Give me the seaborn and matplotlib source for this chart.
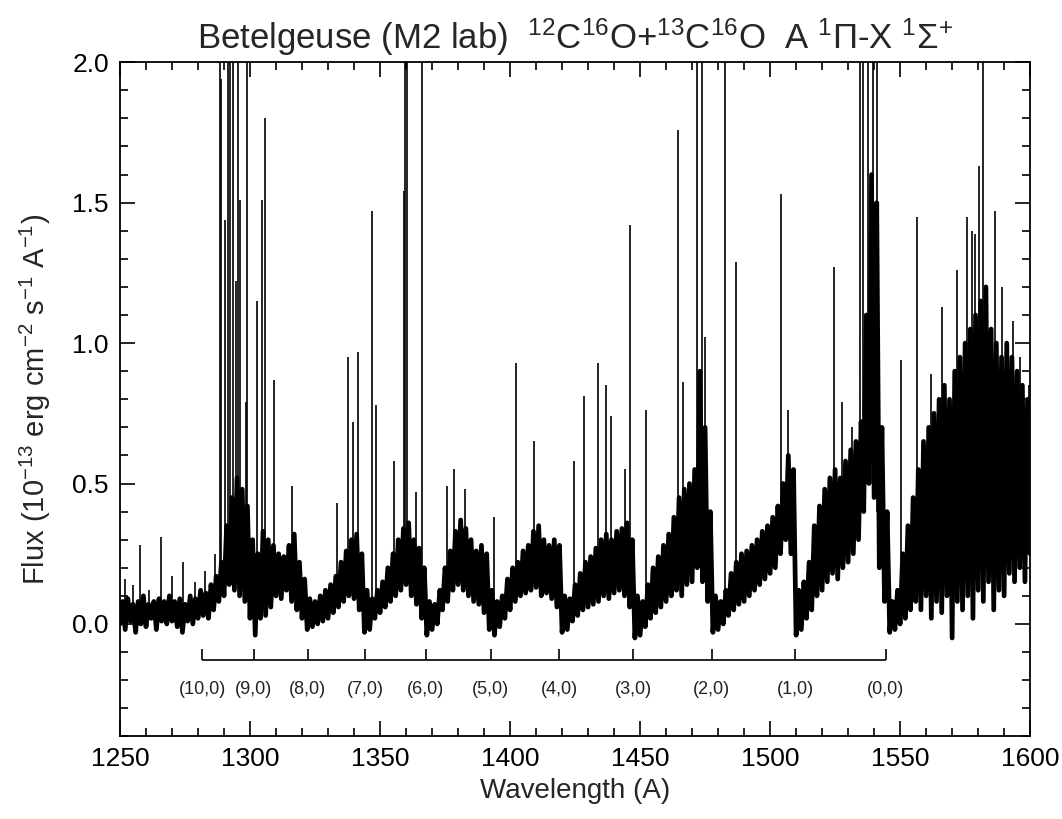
import numpy as np
import matplotlib
matplotlib.use("Agg")
import matplotlib.pyplot as plt
import seaborn as sns
from matplotlib.ticker import MultipleLocator

# -----------------------------
# Data
# -----------------------------
# wavelength grid (A), 2 A steps; lower / upper edge of the noisy band
wl = np.arange(1250, 1601, 2)
flux_lo = [
    0.00, -0.02, 0.01, -0.03, 0.00, -0.01, 0.02, -0.02, 0.01, 0.00,   # 1250-1268
    0.01, -0.01, -0.03, 0.01, 0.00, 0.02, 0.03, 0.02, 0.05, 0.08,     # 1270-1288
    0.10, 0.14, 0.12, 0.10, 0.08, 0.02, -0.04, 0.02, 0.03, 0.06,      # 1290-1308
    0.10, 0.09, 0.12, 0.08, 0.05, 0.02, -0.02, -0.01, 0.00, 0.01,     # 1310-1328
    0.02, 0.04, 0.06, 0.08, 0.10, 0.09, 0.05, -0.03, -0.02, 0.02,     # 1330-1348
    0.04, 0.06, 0.08, 0.10, 0.12, 0.14, 0.10, 0.07, 0.02, -0.04,      # 1350-1368
    -0.02, 0.00, 0.05, 0.08, 0.12, 0.14, 0.12, 0.10, 0.08, 0.07,      # 1370-1388
    0.04, -0.02, -0.04, -0.01, 0.02, 0.05, 0.08, 0.10, 0.11, 0.12,    # 1390-1408
    0.13, 0.10, 0.11, 0.09, 0.06, -0.03, -0.02, 0.01, 0.03, 0.05,     # 1410-1428
    0.06, 0.07, 0.08, 0.10, 0.09, 0.11, 0.12, 0.10, 0.06, -0.05,      # 1430-1448
    -0.04, -0.01, 0.02, 0.04, 0.06, 0.08, 0.10, 0.12, 0.10, 0.14,     # 1450-1468
    0.15, 0.20, 0.15, 0.08, -0.03, -0.02, 0.00, 0.03, 0.05, 0.07,     # 1470-1488
    0.08, 0.10, 0.12, 0.14, 0.16, 0.18, 0.20, 0.25, 0.30, 0.25,       # 1490-1508
    -0.04, -0.02, 0.02, 0.05, 0.10, 0.12, 0.15, 0.18, 0.16, 0.20,     # 1510-1528
    0.22, 0.25, 0.30, 0.40, 0.50, 0.45, 0.20, 0.08, -0.03, -0.02,     # 1530-1548
    0.00, 0.02, 0.05, 0.08, 0.05, 0.10, 0.02, 0.08, 0.04, 0.10,       # 1550-1568
    -0.05, 0.08, 0.05, 0.10, 0.02, 0.12, 0.08, 0.15, 0.05, 0.12,      # 1570-1588
    0.10, 0.18, 0.15, 0.20, 0.15, 0.25,                               # 1590-1600
]
flux_hi = [
    0.08, 0.09, 0.07, 0.08, 0.10, 0.07, 0.08, 0.09, 0.08, 0.10,
    0.08, 0.09, 0.07, 0.10, 0.09, 0.12, 0.11, 0.14, 0.17, 0.22,
    0.35, 0.45, 0.52, 0.48, 0.42, 0.30, 0.25, 0.33, 0.30, 0.28,
    0.25, 0.24, 0.28, 0.32, 0.22, 0.16, 0.09, 0.08, 0.10, 0.12,
    0.14, 0.17, 0.22, 0.26, 0.30, 0.32, 0.25, 0.12, 0.09, 0.12,
    0.15, 0.20, 0.25, 0.30, 0.34, 0.36, 0.30, 0.27, 0.20, 0.08,
    0.07, 0.12, 0.20, 0.26, 0.33, 0.37, 0.34, 0.30, 0.26, 0.28,
    0.25, 0.12, 0.08, 0.10, 0.16, 0.20, 0.22, 0.26, 0.28, 0.33,
    0.35, 0.30, 0.28, 0.30, 0.28, 0.10, 0.09, 0.14, 0.18, 0.22,
    0.24, 0.27, 0.30, 0.32, 0.30, 0.33, 0.34, 0.36, 0.30, 0.10,
    0.08, 0.14, 0.20, 0.24, 0.28, 0.32, 0.38, 0.45, 0.48, 0.50,
    0.55, 0.90, 0.70, 0.40, 0.10, 0.08, 0.12, 0.18, 0.22, 0.25,
    0.26, 0.28, 0.30, 0.33, 0.35, 0.38, 0.42, 0.50, 0.60, 0.55,
    0.12, 0.15, 0.22, 0.35, 0.42, 0.48, 0.52, 0.55, 0.52, 0.58,
    0.62, 0.65, 0.72, 1.10, 1.60, 1.50, 0.70, 0.40, 0.08, 0.12,
    0.25, 0.35, 0.45, 0.55, 0.65, 0.70, 0.75, 0.80, 0.85, 0.80,
    0.90, 0.95, 1.00, 1.05, 1.10, 1.15, 1.20, 1.05, 1.00, 0.95,
    1.00, 0.95, 0.90, 0.85, 0.80, 0.90,
]

# individual emission lines: position, base, peak (peaks above 2 run off the top)
line_wl = [1251.8, 1255.0, 1257.6, 1261.0, 1265.6, 1270.0, 1274.2, 1279.0, 1282.7, 1286.4,
           1288.3, 1288.8, 1290.5, 1291.5, 1292.3, 1293.5, 1294.5, 1295.5, 1296.0, 1298.5,
           1299.0, 1302.6, 1304.5, 1305.8, 1309.2, 1316.0, 1333.5, 1337.7, 1339.7, 1341.5,
           1346.8, 1348.3, 1355.4, 1359.2, 1359.6, 1360.4, 1363.7, 1366.0, 1375.6, 1378.5,
           1382.7, 1393.8, 1402.3, 1409.2, 1424.6, 1428.6, 1433.9, 1437.0, 1438.8, 1444.2,
           1446.2, 1452.2, 1464.6, 1466.5, 1471.9, 1473.8, 1475.0, 1482.7, 1486.9, 1504.2,
           1506.9, 1524.6, 1527.6, 1531.4, 1534.6, 1535.8, 1537.5, 1539.5, 1541.0, 1550.3,
           1556.5, 1561.8, 1566.2, 1571.8, 1575.8, 1577.7, 1578.8, 1580.4, 1582.0, 1586.5,
           1589.0, 1593.3, 1596.0, 1599.5]
line_base = [0.03, 0.03, 0.03, 0.03, 0.03, 0.04, 0.03, 0.04, 0.05, 0.08,
             0.10, 0.10, 0.15, 0.15, 0.15, 0.15, 0.15, 0.15, 0.15, 0.12,
             0.12, 0.10, 0.12, 0.12, 0.15, 0.15, 0.10, 0.15, 0.15, 0.15,
             0.05, 0.06, 0.15, 0.20, 0.20, 0.20, 0.15, 0.10, 0.15, 0.20,
             0.20, 0.05, 0.15, 0.20, 0.10, 0.12, 0.15, 0.18, 0.18, 0.20,
             0.15, 0.10, 0.25, 0.25, 0.30, 0.30, 0.25, 0.06, 0.12, 0.35,
             0.40, 0.35, 0.40, 0.45, 0.50, 0.50, 0.50, 0.50, 0.40, 0.15,
             0.30, 0.40, 0.45, 0.50, 0.55, 0.55, 0.55, 0.60, 0.60, 0.55,
             0.55, 0.50, 0.50, 0.45]
line_top = [0.16, 0.14, 0.28, 0.12, 0.31, 0.17, 0.22, 0.15, 0.19, 0.25,
            2.5, 1.94, 1.44, 2.5, 2.5, 2.5, 1.22, 2.5, 1.51, 0.79,
            2.5, 1.15, 1.51, 1.80, 0.87, 0.49, 0.43, 0.95, 0.72, 0.97,
            1.47, 0.78, 0.58, 1.54, 2.5, 2.5, 0.47, 2.5, 0.49, 0.55,
            0.48, 0.38, 0.93, 0.65, 0.58, 0.81, 0.93, 0.85, 0.74, 0.55,
            1.42, 0.76, 1.76, 0.86, 2.5, 2.5, 1.02, 2.5, 1.29, 1.53,
            0.76, 1.27, 0.79, 0.70, 2.5, 2.5, 2.5, 2.5, 2.5, 0.94,
            1.45, 0.89, 1.13, 1.26, 1.45, 1.40, 1.39, 1.63, 2.5, 1.47,
            1.20, 1.08, 0.95, 0.85]

# CO A-X band heads (v',0)
band_wl = [1281.6, 1301.4, 1322.2, 1344.2, 1367.6, 1392.5, 1419.0, 1447.4, 1477.6, 1509.7, 1544.5]
band_lab = ["(10,0)", "(9,0)", "(8,0)", "(7,0)", "(6,0)", "(5,0)",
            "(4,0)", "(3,0)", "(2,0)", "(1,0)", "(0,0)"]

# -----------------------------
# Plot
# -----------------------------
sns.set_theme(style="ticks")
plt.rcParams["font.family"] = ["Liberation Sans", "DejaVu Sans"]
plt.rcParams["mathtext.fontset"] = "custom"
plt.rcParams["mathtext.rm"] = "Liberation Sans"
plt.rcParams["mathtext.it"] = "Liberation Sans"

fig = plt.figure(figsize=(10.62, 8.19), dpi=100)
ax = fig.add_axes([0.113, 0.101, 0.857, 0.823])

# zig-zag between lower and upper edge gives the dense noisy look
x_zz = np.column_stack([wl, wl + 1.0]).ravel()
y_zz = np.column_stack([flux_lo, flux_hi]).ravel()
sns.lineplot(x=x_zz, y=y_zz, ax=ax, color="black", lw=3.4, sort=False, estimator=None)
ax.vlines(line_wl, line_base, line_top, color="black", lw=1.2)

# band head bracket
ax.hlines(-0.13, band_wl[0], band_wl[-1], color="black", lw=1.2)
ax.vlines(band_wl, -0.13, -0.09, color="black", lw=1.2)
for w, lab in zip(band_wl, band_lab):
    ax.text(w, -0.235, lab, ha="center", va="center", fontsize=13, color="#222222")

ax.set_xlim(1250, 1600)
ax.set_ylim(-0.4, 2.0)
ax.xaxis.set_major_locator(MultipleLocator(50))
ax.xaxis.set_minor_locator(MultipleLocator(10))
ax.yaxis.set_major_locator(MultipleLocator(0.5))
ax.yaxis.set_minor_locator(MultipleLocator(0.1))
ax.set_yticks([0.0, 0.5, 1.0, 1.5, 2.0])
ax.set_yticklabels(["0.0", "0.5", "1.0", "1.5", "2.0"])
ax.tick_params(which="both", direction="in", top=True, right=True, width=1.2, colors="black")
ax.tick_params(which="major", length=11, labelsize=19, pad=8)
ax.tick_params(which="minor", length=6)
for s in ax.spines.values():
    s.set_linewidth(1.3)
    s.set_color("black")

ax.set_xlabel("Wavelength (A)", fontsize=20, labelpad=5)
ax.set_ylabel(r"Flux (10$^{-13}$ erg cm$^{-2}$ s$^{-1}$ A$^{-1}$)", fontsize=21, labelpad=14)
ax.set_title(r"Betelgeuse (M2 lab)  $^{12}$C$^{16}$O+$^{13}$C$^{16}$O  A $^{1}$Π-X $^{1}$Σ$^{+}$",
             fontsize=25, pad=10)

fig.savefig("out.png", dpi=100)
